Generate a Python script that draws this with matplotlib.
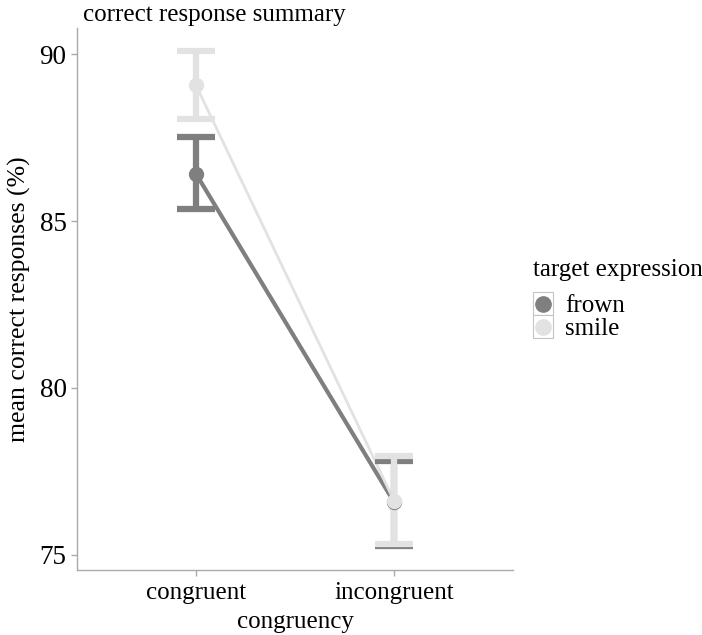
import matplotlib
matplotlib.use("Agg")
import matplotlib.pyplot as plt
from matplotlib.lines import Line2D
from matplotlib.patches import Rectangle

categories = ["congruent", "incongruent"]
groups = ["frown", "smile"]
means = {"frown": [86.42, 76.58], "smile": [89.07, 76.62]}
upper = {"frown": [87.52, 77.82], "smile": [90.1, 77.95]}
lower = {"frown": [85.36, 75.27], "smile": [88.05, 75.33]}
yticks = [75, 80, 85, 90]

colors = {"frown": "#7f7f7f", "smile": "#e2e2e2"}
lws = {"frown": 3.0, "smile": 2.0}

plt.rcParams['font.family'] = ['Liberation Serif', 'DejaVu Serif']
W, H = 702, 635
fig = plt.figure(figsize=(W/100, H/100), dpi=100)
ax = fig.add_axes([77/W, 1-570/H, (513-77)/W, (570-28)/H])

x = list(range(1, len(categories)+1))
for g in groups:
    c = colors[g]
    ax.plot(x, means[g], color=c, lw=lws[g], zorder=2)
    for xi, m, u, l in zip(x, means[g], upper[g], lower[g]):
        ax.plot([xi, xi], [l, u], color=c, lw=4.5, solid_capstyle='butt', zorder=3)
        for yy in (l, u):
            ax.plot([xi-0.095, xi+0.095], [yy, yy], color=c, lw=4.5, solid_capstyle='butt', zorder=3)
    ax.plot(x, means[g], 'o', color=c, ms=10, zorder=4)

ax.set_xlim(0.4, 2.6)
ax.set_ylim(74.55, 90.78)
ax.set_xticks(x)
ax.set_xticklabels(categories, fontsize=18)
ax.set_yticks(yticks)
ax.set_yticklabels([str(t) for t in yticks], fontsize=19.5)
for s in ['top', 'right']:
    ax.spines[s].set_visible(False)
for s in ['left', 'bottom']:
    ax.spines[s].set_color('#aaaaaa')
    ax.spines[s].set_linewidth(1.0)
ax.tick_params(color='#aaaaaa', length=4, width=1, labelcolor='black')
ax.tick_params(axis='x', pad=5)
ax.set_xlabel("congruency", fontsize=18, labelpad=5)
ax.set_ylabel("mean correct responses (%)", fontsize=18.5, labelpad=6)
fig.text(83/W, 1-20.5/H, "correct response summary", fontsize=18, ha='left', va='baseline')

# legend
fig.text(533/W, 1-276/H, "target expression", fontsize=18, ha='left', va='baseline')
key_top = 292
key_h = 23
for i, g in enumerate(groups):
    y0 = key_top + i*key_h
    fig.add_artist(Rectangle((533/W, 1-(y0+key_h)/H), 20/W, key_h/H, transform=fig.transFigure,
                             facecolor='white', edgecolor='#c4c4c4', lw=0.8))
    cy = y0 + key_h/2
    fig.add_artist(Line2D([543/W], [1-cy/H], marker='o', color=colors[g], ms=11, ls='',
                          transform=fig.transFigure))
    fig.text(565/W, 1-(y0+20)/H, g, fontsize=18, ha='left', va='baseline')

fig.savefig("out.png", dpi=100)
